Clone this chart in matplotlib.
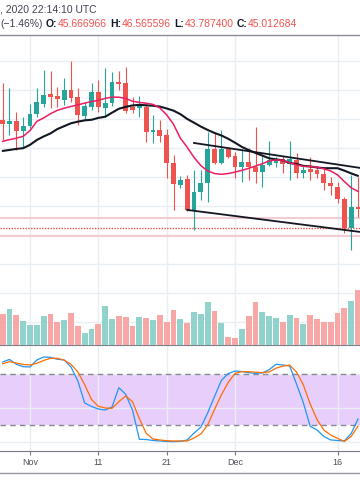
import matplotlib
matplotlib.use("Agg")
import matplotlib.pyplot as plt
from matplotlib.lines import Line2D
import numpy as np
import pandas as pd

plt.rcParams['font.family'] = ['Liberation Sans', 'DejaVu Sans']

# ---------------- data ----------------
dates = pd.date_range("2020-10-28", "2020-12-19", freq="D")

opens = [49.93, 49.65, 49.86, 49.17, 49.52, 50.34, 51.03, 51.72, 51.59, 51.31,
         52.00, 51.52, 50.21, 50.83, 51.86, 50.76, 51.10, 52.55, 52.48, 50.83,
         50.76, 50.83, 49.10, 49.24, 48.90, 46.96, 45.45, 45.86, 43.72, 44.96,
         45.58, 47.93, 46.96, 47.93, 47.45, 46.69, 47.03, 46.69, 46.34, 46.83,
         46.96, 47.24, 46.89, 47.17, 46.27, 46.55, 46.48, 46.20, 45.58, 45.31,
         44.48, 42.48, 43.93]
highs = [52.48, 52.14, 50.48, 50.14, 51.03, 52.14, 53.38, 53.31, 52.21, 52.83,
         54.00, 52.14, 51.17, 52.48, 52.69, 53.52, 53.24, 53.31, 53.59, 51.52,
         51.59, 51.03, 50.28, 49.93, 49.31, 47.52, 46.07, 46.14, 46.48, 46.48,
         49.10, 49.10, 49.24, 48.07, 47.72, 47.93, 48.00, 49.45, 47.52, 48.48,
         47.38, 47.45, 48.48, 47.65, 46.83, 47.38, 46.76, 46.62, 46.00, 45.65,
         44.62, 46.14, 46.00]
lows = [48.55, 48.90, 47.86, 48.07, 49.38, 50.14, 50.83, 50.76, 50.83, 50.97,
        51.17, 49.59, 49.93, 50.62, 50.48, 50.14, 50.90, 52.00, 50.41, 50.41,
        50.14, 48.41, 48.34, 48.41, 45.93, 43.72, 45.24, 43.65, 42.34, 44.41,
        44.27, 46.89, 46.89, 47.31, 45.93, 45.65, 45.79, 45.58, 45.31, 46.76,
        46.69, 46.27, 45.79, 45.93, 45.93, 45.79, 45.93, 45.10, 44.76, 44.20,
        42.13, 40.96, 43.24]
closes = [49.65, 49.86, 49.17, 49.52, 50.34, 51.17, 51.66, 51.52, 51.38, 52.00,
          51.45, 50.28, 50.90, 51.86, 50.83, 51.10, 52.55, 52.41, 50.55, 50.62,
          51.03, 49.10, 49.24, 48.83, 46.96, 45.51, 45.79, 43.72, 44.96, 45.58,
          47.93, 46.96, 47.93, 47.38, 46.69, 47.03, 46.69, 46.34, 46.83, 47.17,
          47.17, 46.89, 47.24, 46.27, 46.48, 46.34, 46.20, 45.58, 45.38, 44.48,
          42.48, 43.93, 43.79]
volumes = [310, 360, 300, 240, 200, 200, 290, 310, 230, 250,
           320, 190, 120, 160, 210, 390, 260, 290, 280, 190,
           280, 270, 250, 300, 230, 350, 260, 220, 330, 310,
           430, 340, 220, 80, 70, 160, 290, 430, 330, 290,
           270, 230, 300, 270, 210, 300, 260, 230, 230, 320,
           370, 440, 550]
ma_fast = [48.45, 48.57, 48.67, 48.80, 49.19, 49.83, 50.07, 50.36, 50.59, 50.74,
           50.86, 50.97, 51.09, 51.20, 51.28, 51.42, 51.50, 51.50, 51.41, 51.22,
           51.14, 51.08, 51.00, 50.76, 50.28, 49.63, 48.67, 48.05, 47.34, 46.78,
           46.41, 46.23, 46.18, 46.23, 46.33, 46.45, 46.59, 46.75, 46.91, 47.10,
           47.17, 47.15, 46.97, 46.83, 46.73, 46.71, 46.67, 46.56, 46.41, 46.14,
           45.68, 45.25, 45.00]
ma_slow = [47.79, 47.86, 47.93, 47.98, 48.21, 48.55, 48.79, 49.00, 49.30, 49.50,
           49.70, 49.81, 49.90, 49.94, 50.07, 50.15, 50.43, 50.70, 50.83, 50.93,
           50.97, 50.94, 50.91, 50.85, 50.72, 50.57, 50.33, 50.00, 49.74, 49.47,
           49.24, 49.03, 48.86, 48.63, 48.36, 48.07, 47.85, 47.65, 47.47, 47.28,
           47.21, 47.14, 46.96, 46.89, 46.76, 46.72, 46.65, 46.60, 46.60, 46.60,
           46.43, 46.24, 46.07]
stoch_k = [94.1, 97.1, 91.4, 88.6, 88.2, 96.5, 100, 99.6, 97.3, 96.5,
           88.2, 71.8, 45.9, 41.8, 38.8, 37.6, 41.2, 63.9, 56.1, 37.6,
           3.2, 2.9, 1.8, 1.2, 0.6, 0.4, 0.8, 2.4, 10.6, 17.3,
           34.1, 53.5, 72.4, 80.4, 83.5, 82.9, 81.5, 80.8, 81.2, 85.1,
           91.4, 90.6, 89.4, 68.2, 46.2, 18.5, 14.1, 6.5, 2.4, 1.8,
           1.2, 10.0, 27.0]
stoch_d = [92.0, 94.5, 92.9, 91.2, 90.6, 92.6, 95.9, 98.5, 98.5, 96.2,
           91.4, 82.4, 67.4, 50.0, 42.0, 40.0, 39.6, 47.4, 54.1, 47.4,
           27.6, 10.2, 3.5, 2.4, 1.5, 1.2, 1.2, 1.2, 4.7, 9.4,
           20.0, 38.2, 55.3, 70.0, 80.8, 82.7, 82.7, 82.1, 81.6, 82.4,
           86.8, 89.2, 90.5, 82.4, 67.1, 44.7, 26.4, 14.1, 8.2, 4.4,
           0.6, 6.5, 18.8]

tick_dates = ["2020-11-01", "2020-11-11", "2020-11-21", "2020-12-01", "2020-12-16"]
tick_labels = ["Nov", "11", "21", "Dec", "16"]

header_time = ", 2020 22:14:10 UTC"
header_change = "(\u22121.46%)"
header_ohlc = [("O:", "45.666966"), ("H:", "46.565596"),
               ("L:", "43.787400"), ("C:", "45.012684")]

band_lines = [43.17, 41.93]
last_price = 42.48
trend_upper = ([28, 53], [48.34, 46.57])
trend_lower = ([27, 53], [43.72, 42.16])
stoch_band = (20, 80)

# ---------------- styling ----------------
UP, DOWN = '#26a69a', '#ef5350'
VUP, VDOWN = '#92d2cc', '#f7a8a6'
GRID = '#e9eef3'

W, H = 360, 504
fig = plt.figure(figsize=(W / 100, H / 100), dpi=100)


def rect(top_px, bot_px):
    return [0, 1 - bot_px / H, 1, (bot_px - top_px) / H]


ax = fig.add_axes(rect(35, 345))
ax2 = fig.add_axes(rect(345, 451), sharex=ax)

x = np.arange(len(dates))
tick_pos = [dates.get_loc(pd.Timestamp(d)) for d in tick_dates]

o = np.array(opens); c = np.array(closes)
h = np.array(highs); l = np.array(lows)
up = c >= o
ccol = np.where(up, UP, DOWN)
vcol = np.where(up, VUP, VDOWN)

# price pane
ax.set_xlim(-0.39, 52.29)
ax.set_ylim(34.40, 55.79)
ax.set_yticks(np.arange(36, 56, 2))
ax.set_xticks(tick_pos)
ax.grid(True, color=GRID, lw=1)
ax.tick_params(length=0, labelleft=False, labelbottom=False)
for s in ['left', 'right', 'bottom']:
    ax.spines[s].set_visible(False)
ax.spines['top'].set_color('#8a8d96')
ax.spines['top'].set_linewidth(1)

for lvl in band_lines:
    ax.axhline(lvl, color='#f0cdd2', lw=1.5, zorder=2)
ax.axhline(last_price, color=DOWN, lw=1.0, ls=(0, (1, 1)), zorder=2)

ax.vlines(x, l, h, colors=ccol, lw=0.8, zorder=3)
ax.bar(x, np.maximum(np.abs(c - o), 0.05), bottom=np.minimum(o, c),
       width=0.72, color=ccol, linewidth=0, zorder=4)

ax.plot(x, ma_slow, color='#131722', lw=1.5, zorder=5, solid_capstyle='round')
ax.plot(x, ma_fast, color='#e91e63', lw=1.1, zorder=5)
ax.plot(*trend_upper, color='#131722', lw=1.3, zorder=6)
ax.plot(*trend_lower, color='#131722', lw=1.3, zorder=6)

# volume overlay
axv = ax.twinx()
axv.set_ylim(0, 3100)
axv.bar(x, volumes, width=0.84, color=vcol, linewidth=0, zorder=2)
axv.patch.set_visible(False)
axv.tick_params(length=0, labelright=False, labelleft=False)
for s in axv.spines.values():
    s.set_visible(False)

# stochastic RSI pane
ax2.set_ylim(-10.6, 114.1)
ax2.set_yticks([0, 40, 80])
ax2.axhspan(stoch_band[0], stoch_band[1], color='#e8cefb', lw=0, zorder=1)
ax2.grid(True, color=GRID, lw=1)
for lvl in stoch_band:
    ax2.axhline(lvl, color='#868993', lw=1, ls=(0, (4, 3)), zorder=2)
ax2.plot(x, stoch_k, color='#2196f3', lw=0.9, zorder=3)
ax2.plot(x, stoch_d, color='#ff6d00', lw=0.9, zorder=3)
ax2.tick_params(axis='y', length=0, labelleft=False)
ax2.set_xticks(tick_pos)
ax2.set_xticklabels(tick_labels)
ax2.tick_params(axis='x', length=3, width=0.8, color='#787b86',
                labelsize=6.5, labelcolor='#4c505b', pad=2)
for s in ['left', 'right']:
    ax2.spines[s].set_visible(False)
ax2.spines['top'].set_color('#7d808a')
ax2.spines['bottom'].set_color('#787b86')

fig.add_artist(Line2D([0, 1], [1 - 473 / H] * 2, color='#9598a1', lw=1,
                      transform=fig.transFigure))

# header
renderer = fig.canvas.get_renderer()
DARK = '#3f434e'


def put_row(pieces, y_px, x0=0.5):
    xp = x0
    for txt, color, weight, gap in pieces:
        t = fig.text(xp / W, 1 - y_px / H, txt, color=color, fontsize=7.5,
                     fontweight=weight, va='center', ha='left')
        bb = t.get_window_extent(renderer=renderer)
        xp += bb.width + gap


put_row([(header_time, DARK, 'normal', 0)], 10)
row = [(header_change, DARK, 'normal', 3.0)]
for i, (lab, val) in enumerate(header_ohlc):
    row.append((lab, '#131722', 'bold', 0.6))
    row.append((val, DOWN, 'normal', 3.0 if i < len(header_ohlc) - 1 else 0))
put_row(row, 24)

fig.savefig("out.png", dpi=100)
